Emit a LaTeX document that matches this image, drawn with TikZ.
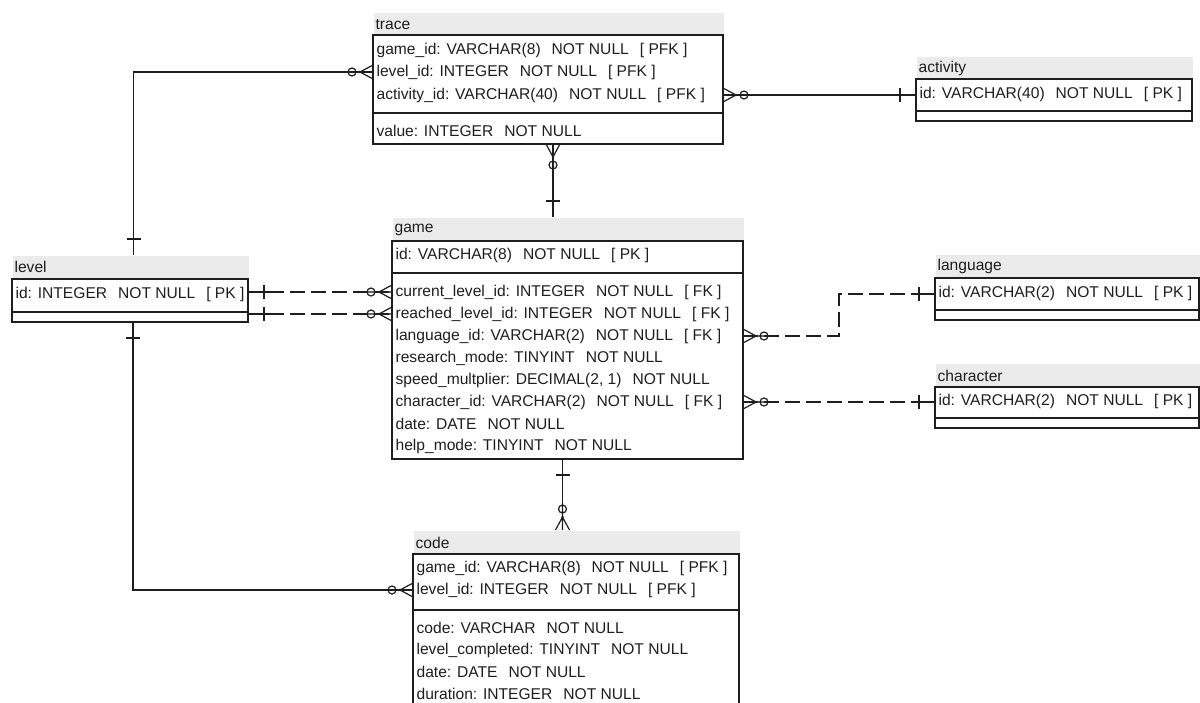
\documentclass[tikz,border=0pt]{standalone}
\usepackage{fontspec}
\setmainfont{Liberation Sans}
\usetikzlibrary{shapes,positioning,calc}
\definecolor{ink}{HTML}{1E1E1E}
\definecolor{titlegray}{HTML}{EBEBEB}
\newcommand{\gap}{\hspace{11pt}}

\begin{document}
\begin{tikzpicture}[x=1pt, y=-1pt, line width=1.2pt, color=ink]

  % Page and styles
  \clip (0,0) rectangle (1200,702);
  \fill[white] (0,0) rectangle (1200,702);
  \tikzset{
    every node/.style={font=\fontsize{15.6}{18}\selectfont},
    titlebar/.style={anchor=north west, fill=titlegray, inner xsep=2pt, inner ysep=0pt,
      minimum height=23pt, text width=#1, align=left},
    tablebox/.style={anchor=north west, draw, inner sep=0pt, outer sep=0pt},
    field/.style={anchor=west, inner sep=0pt},
    nonident/.style={dash pattern=on 15pt off 6pt},
    onemark/.pic={\draw (0,0) -- (24,0) (16,-7) -- (16,7);},
    manymark/.pic={\draw (0,-7) -- (13,0) (0,7) -- (13,0) (0,0) -- (27,0) (21,0) circle (4pt);
      \fill (13,0) circle (1.3pt);}
  }

  % Table: trace
  \node[titlebar=346pt] (trace) at (373,12) {trace};
  \node[tablebox, minimum width=350pt, minimum height=78pt] (trace_key) at (373,35) {};
  \node[tablebox, minimum width=350pt, minimum height=31pt] (trace_attr) at (373,113) {};
  \node[field] (trace_game) at (376,50) {game\_id: VARCHAR(8)\gap NOT NULL\gap [ PFK ]};
  \node[field] (trace_level) at (376,72) {level\_id: INTEGER\gap NOT NULL\gap [ PFK ]};
  \node[field] (trace_activity) at (376,95) {activity\_id: VARCHAR(40)\gap NOT NULL\gap [ PFK ]};
  \node[field] (trace_value) at (376,131) {value: INTEGER\gap NOT NULL};

  % Table: activity
  \node[titlebar=272pt] (activity) at (916,56) {activity};
  \node[tablebox, minimum width=276pt, minimum height=32pt] (activity_key) at (916,79) {};
  \node[tablebox, minimum width=276pt, minimum height=10pt] (activity_attr) at (916,111) {};
  \node[field] (activity_id) at (919,94) {id: VARCHAR(40)\gap NOT NULL\gap [ PK ]};

  % Table: level
  \node[titlebar=232pt] (level) at (12,255) {level};
  \node[tablebox, minimum width=236pt, minimum height=33pt] (level_key) at (12,279) {};
  \node[tablebox, minimum width=236pt, minimum height=10pt] (level_attr) at (12,312) {};
  \node[field] (level_id) at (15,294) {id: INTEGER\gap NOT NULL\gap [ PK ]};

  % Table: game
  \node[titlebar=347pt, minimum height=24pt] (game) at (392,217) {game};
  \node[tablebox, minimum width=351pt, minimum height=32pt] (game_key) at (392,241) {};
  \node[tablebox, minimum width=351pt, minimum height=186pt] (game_attr) at (392,273) {};
  \node[field] (game_id) at (395,255) {id: VARCHAR(8)\gap NOT NULL\gap [ PK ]};
  \node[field] (game_current) at (395,292) {current\_level\_id: INTEGER\gap NOT NULL\gap [ FK ]};
  \node[field] (game_reached) at (395,314) {reached\_level\_id: INTEGER\gap NOT NULL\gap [ FK ]};
  \node[field] (game_language) at (395,336) {language\_id: VARCHAR(2)\gap NOT NULL\gap [ FK ]};
  \node[field] (game_research) at (395,358) {research\_mode: TINYINT\gap NOT NULL};
  \node[field] (game_speed) at (395,380) {speed\_multplier: DECIMAL(2, 1)\gap NOT NULL};
  \node[field] (game_character) at (395,402) {character\_id: VARCHAR(2)\gap NOT NULL\gap [ FK ]};
  \node[field] (game_date) at (395,424) {date: DATE\gap NOT NULL};
  \node[field] (game_help) at (395,446) {help\_mode: TINYINT\gap NOT NULL};

  % Table: language
  \node[titlebar=260pt, minimum height=24pt] (language) at (935,254) {language};
  \node[tablebox, minimum width=264pt, minimum height=32pt] (language_key) at (935,278) {};
  \node[tablebox, minimum width=264pt, minimum height=10pt] (language_attr) at (935,310) {};
  \node[field] (language_id) at (938,293) {id: VARCHAR(2)\gap NOT NULL\gap [ PK ]};

  % Table: character
  \node[titlebar=260pt, minimum height=24pt] (character) at (935,363) {character};
  \node[tablebox, minimum width=264pt, minimum height=31pt] (character_key) at (935,387) {};
  \node[tablebox, minimum width=264pt, minimum height=10pt] (character_attr) at (935,418) {};
  \node[field] (character_id) at (938,401) {id: VARCHAR(2)\gap NOT NULL\gap [ PK ]};

  % Table: code
  \node[titlebar=322pt, minimum height=24pt] (code) at (413,530) {code};
  \node[tablebox, minimum width=326pt, minimum height=56pt] (code_key) at (413,554) {};
  \node[tablebox, minimum width=326pt, minimum height=100pt] (code_attr) at (413,610) {};
  \node[field] (code_game) at (416,568) {game\_id: VARCHAR(8)\gap NOT NULL\gap [ PFK ]};
  \node[field] (code_level) at (416,590) {level\_id: INTEGER\gap NOT NULL\gap [ PFK ]};
  \node[field] (code_code) at (416,628) {code: VARCHAR\gap NOT NULL};
  \node[field] (code_completed) at (416,650) {level\_completed: TINYINT\gap NOT NULL};
  \node[field] (code_date) at (416,672) {date: DATE\gap NOT NULL};
  \node[field] (code_duration) at (416,694) {duration: INTEGER\gap NOT NULL};

  % Relationships of level
  \draw ([xshift=3pt]level.north) |- (trace_key.west |- trace_level);
  \pic[rotate=90] at ([xshift=3pt]level.north) {onemark};
  \pic[rotate=180] at (trace_key.west |- trace_level) {manymark};
  \draw ([xshift=3pt]level_attr.south) |- (code_key.west |- code_level);
  \pic[rotate=-90] at ([xshift=3pt]level_attr.south) {onemark};
  \pic[rotate=180] at (code_key.west |- code_level) {manymark};
  \draw[nonident] (level_key.east |- game_current) -- (game_attr.west |- game_current);
  \pic at (level_key.east |- game_current) {onemark};
  \pic[rotate=180] at (game_attr.west |- game_current) {manymark};
  \draw[nonident] (level_attr.east |- game_reached) -- (game_attr.west |- game_reached);
  \pic at (level_attr.east |- game_reached) {onemark};
  \pic[rotate=180] at (game_attr.west |- game_reached) {manymark};

  % Relationships of trace
  \draw (trace_key.east |- trace_activity) -- (activity_key.west |- trace_activity);
  \pic at (trace_key.east |- trace_activity) {manymark};
  \pic[rotate=180] at (activity_key.west |- trace_activity) {onemark};
  \draw ([xshift=5pt]trace_attr.south) -- ([xshift=5pt]trace_attr.south |- game.north);
  \pic[rotate=-90] at ([xshift=5pt]trace_attr.south) {manymark};
  \pic[rotate=90] at ([xshift=5pt]trace_attr.south |- game.north) {onemark};

  % Relationships of game
  \draw[nonident] (game_attr.east |- game_language)
    -| ($(game_attr.east |- game_language)!0.5!(language_key.west)$) |- (language_key.west);
  \pic at (game_attr.east |- game_language) {manymark};
  \pic[rotate=180] at (language_key.west) {onemark};
  \draw[nonident] (game_attr.east |- game_character) -- (character_key.west |- game_character);
  \pic at (game_attr.east |- game_character) {manymark};
  \pic[rotate=180] at (character_key.west |- game_character) {onemark};
  \draw ([xshift=-5pt]game_attr.south) -- ([xshift=-5pt]game_attr.south |- code.north);
  \pic[rotate=-90] at ([xshift=-5pt]game_attr.south) {onemark};
  \pic[rotate=90] at ([xshift=-5pt]game_attr.south |- code.north) {manymark};

\end{tikzpicture}
\end{document}
